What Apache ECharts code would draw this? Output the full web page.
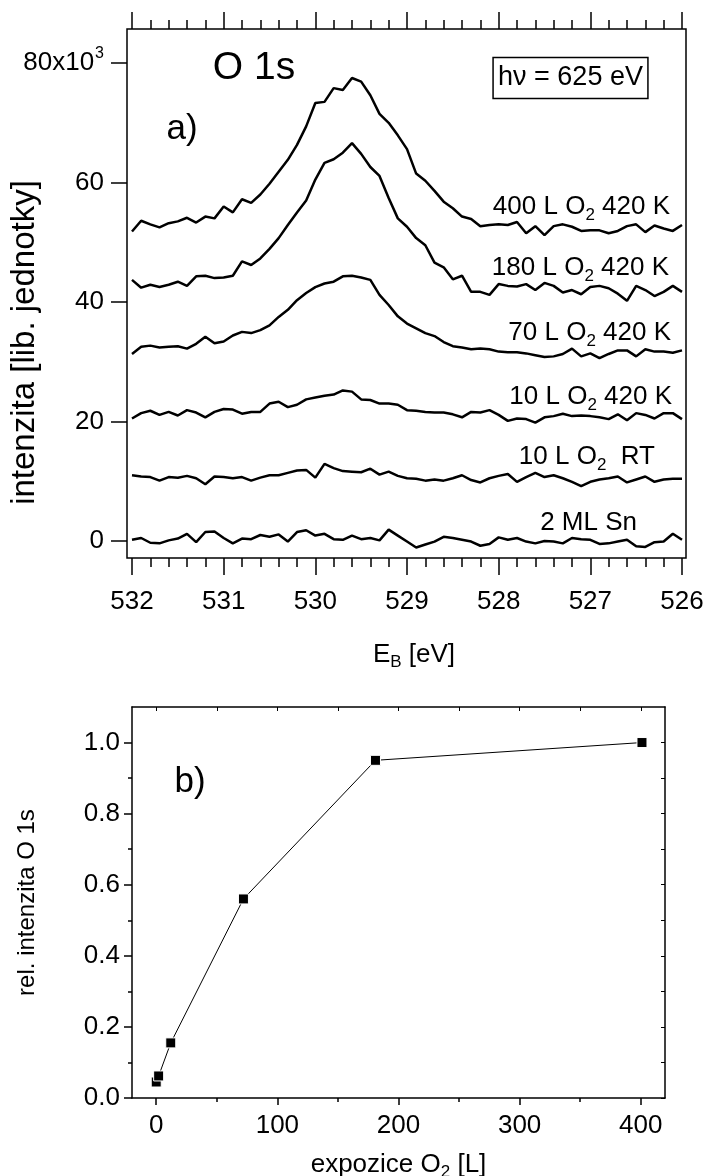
<!DOCTYPE html>
<html><head><meta charset="utf-8">
<script src="https://cdn.jsdelivr.net/npm/echarts@6/dist/echarts.min.js"></script>
<style>html,body{margin:0;padding:0;background:#fff}#c{width:707px;height:1176px}</style>
</head><body><div id="c"></div><script>
// ---- data: panel a) O 1s spectra (intensity in 10^3 counts) ----
const energy = [532.0,531.9,531.8,531.7,531.6,531.5,531.4,531.3,531.2,531.1,
  531.0,530.9,530.8,530.7,530.6,530.5,530.4,530.3,530.2,530.1,
  530.0,529.9,529.8,529.7,529.6,529.5,529.4,529.3,529.2,529.1,
  529.0,528.9,528.8,528.7,528.6,528.5,528.4,528.3,528.2,528.1,
  528.0,527.9,527.8,527.7,527.6,527.5,527.4,527.3,527.2,527.1,
  527.0,526.9,526.8,526.7,526.6,526.5,526.4,526.3,526.2,526.1,526.0];
const sn2ML = [0.2,0.5,-0.3,-0.4,0.1,0.4,1.2,-0.2,1.5,1.6,
  0.5,-0.4,0.4,0.3,1.0,0.7,1.1,-0.1,1.5,1.8,
  0.9,1.2,0.3,0.2,0.9,0.3,0.5,0.1,1.9,0.9,
  -0.1,-1.1,-0.6,-0.1,0.7,0.5,0.2,-0.1,-0.8,-0.5,
  0.6,0.2,0.5,-0.1,-0.4,0.0,-0.1,-0.4,0.5,0.3,
  0.2,-0.5,-0.4,-0.1,0.2,-0.9,-1.0,-0.2,-0.1,1.2,0.2];
const o2_10L_RT = [11.0,10.8,10.7,10.1,10.7,10.6,10.9,10.5,9.5,10.8,
  10.7,10.5,10.7,10.1,10.6,11.0,11.0,11.4,11.8,11.9,
  10.6,12.9,12.2,11.7,11.6,11.5,12.1,11.1,11.6,10.9,
  10.5,10.4,10.1,10.3,10.1,10.5,11.0,10.2,9.8,10.5,
  10.9,11.2,9.9,10.7,11.4,10.7,11.0,10.5,9.9,9.2,
  9.9,10.3,10.5,10.8,9.8,10.3,10.8,9.9,10.3,10.4,10.4];
const o2_10L_420K = [20.5,21.4,21.8,21.1,21.6,21.0,21.9,21.5,20.7,21.6,
  22.1,22.0,21.3,21.6,21.6,23.0,23.3,22.4,22.8,23.7,
  24.0,24.3,24.5,25.2,25.0,23.7,23.6,23.0,23.0,22.8,
  21.9,21.8,21.6,21.5,21.5,21.2,20.7,21.6,21.5,21.9,
  21.1,20.1,20.5,20.4,19.8,20.7,20.9,21.3,20.9,21.0,
  20.9,20.7,20.4,21.2,20.2,21.4,21.1,20.5,21.4,21.4,20.4];
const o2_70L_420K = [31.3,32.5,32.7,32.4,32.5,32.6,32.2,33.0,34.2,33.1,
  33.4,34.4,35.0,34.8,35.3,36.1,37.5,38.7,40.3,41.5,
  42.5,43.1,43.4,44.3,44.4,44.1,43.7,41.2,39.5,37.6,
  36.4,35.6,34.8,34.3,33.3,32.6,32.4,32.1,32.2,32.1,
  31.7,31.6,31.6,31.4,31.1,30.8,30.9,31.3,32.2,30.9,
  31.4,30.6,31.3,31.9,31.9,30.9,32.1,31.7,31.7,31.5,31.9];
const o2_180L_420K = [43.7,42.4,42.9,42.5,42.9,43.4,42.7,44.3,44.4,44.0,
  44.1,44.4,46.8,46.2,47.3,48.9,50.7,52.9,55.0,57.0,
  60.5,63.3,63.9,65.0,66.6,64.8,62.6,61.1,57.4,54.0,
  52.6,50.7,49.5,46.6,45.8,43.8,44.4,41.7,41.7,41.2,
  43.0,42.7,42.6,43.0,42.0,43.2,42.7,41.6,42.0,41.3,
  42.5,42.7,42.3,41.4,40.2,42.7,42.0,41.0,41.7,42.7,41.7];
const o2_400L_420K = [51.8,53.6,53.0,52.5,53.2,53.5,54.1,53.3,54.3,54.0,
  56.0,55.0,57.2,56.6,58.0,59.8,61.8,63.8,66.3,69.4,
  73.3,73.5,75.8,75.5,77.5,76.9,74.6,71.5,70.0,67.9,
  65.6,61.5,60.3,58.6,56.8,55.7,54.3,53.9,52.7,52.9,
  53.0,52.9,53.4,51.5,52.7,51.2,52.7,53.0,52.6,51.9,
  52.0,52.0,51.5,51.9,52.7,53.0,51.7,52.8,52.3,51.9,52.9];
const spectraLabels = ['2 ML Sn','10 L O{sub|2}  RT','10 L O{sub|2} 420 K','70 L O{sub|2} 420 K','180 L O{sub|2} 420 K','400 L O{sub|2} 420 K'];
const intTicks = [0,20,40,60,80];

// ---- data: panel b) relative O 1s intensity vs exposure ----
const exposure = [0, 2, 12, 72, 181, 401];
const relIntensity = [0.045, 0.062, 0.155, 0.56, 0.95, 1.0];
const expTicks = [0,100,200,300,400];
const expMinorTicks = [50,150,250,350];
const expTopTicks = [0,50,100,150,200,250,300,350,400];
const relTicks = [0,0.2,0.4,0.6,0.8,1.0];
const relMinorTicks = [0.1,0.3,0.5,0.7,0.9];
const relRightTicks = [0,0.1,0.2,0.3,0.4,0.5,0.6,0.7,0.8,0.9,1.0];

const FF = '"Liberation Sans", Arial, Helvetica, sans-serif';
const BLK = '#000';
const subStyle = {fontSize: 17, fontFamily: FF, color: BLK, padding: [16, 0, 0, 0]};
const supStyle = {fontSize: 16, fontFamily: FF, color: BLK, padding: [0, 0, 18, 1]};
const baseStyle = {fontSize: 26, fontFamily: FF, color: BLK};

function pairs(vals) { return energy.map((e, i) => [e, vals[i]]); }
const spectra = [sn2ML, o2_10L_RT, o2_10L_420K, o2_70L_420K, o2_180L_420K, o2_400L_420K];

const chart = echarts.init(document.getElementById('c'), null, {renderer: 'canvas'});

// label anchors (right edge x, center y) for the series names
const labelPos = [[637, 523], [655, 457], [672, 397], [671, 333], [669, 268], [670, 207]];

const graphics = [
  {type: 'rect', shape: {x: 127, y: 29, width: 559, height: 529}, style: {fill: 'none', stroke: BLK, lineWidth: 1.5}, z: 10},
  {type: 'text', x: 254, y: 68, style: {text: 'O 1s', fontSize: 39, fontFamily: FF, fill: BLK, align: 'center', verticalAlign: 'middle'}},
  {type: 'text', x: 182, y: 129, style: {text: 'a)', fontSize: 35, fontFamily: FF, fill: BLK, align: 'center', verticalAlign: 'middle'}},
  {type: 'text', x: 570.5, y: 78, style: {text: 'h\u03bd = 625 eV', fontSize: 27, fontFamily: FF, fill: BLK, align: 'center', verticalAlign: 'middle', borderColor: BLK, borderWidth: 1.5, padding: [8, 5, 6, 5]}},
  {type: 'text', x: 190, y: 782, style: {text: 'b)', fontSize: 35, fontFamily: FF, fill: BLK, align: 'center', verticalAlign: 'middle'}}
];
spectraLabels.forEach((t, i) => {
  graphics.push({type: 'text', x: labelPos[i][0], y: labelPos[i][1], style: {
    text: t, fontSize: 26, fontFamily: FF, fill: BLK, align: 'right', verticalAlign: 'middle',
    rich: {sub: subStyle}
  }});
});

const tickLine = {color: BLK, width: 1.5};

chart.setOption({
  animation: false,
  backgroundColor: '#fff',
  textStyle: {fontFamily: FF, color: BLK},
  grid: [
    {left: 132, right: 25, top: 29, bottom: 618, containLabel: false, outerBoundsMode: 'none'},
    {left: 132, right: 42, top: 707, bottom: 78, containLabel: false, outerBoundsMode: 'none'}
  ],
  xAxis: [
    { // 0: panel a bottom
      gridIndex: 0, type: 'value', position: 'bottom', inverse: true, min: 526, max: 532, interval: 1,
      axisLine: {show: false, onZero: false}, splitLine: {show: false},
      axisTick: {show: true, length: 17, lineStyle: tickLine},
      minorTick: {show: true, splitNumber: 5, length: 9, lineStyle: tickLine},
      axisLabel: {fontSize: 26, fontFamily: FF, color: BLK, margin: 31},
      name: 'E{sub|B} [eV]', nameLocation: 'middle', nameGap: 80, nameMoveOverlap: false,
      nameTextStyle: {fontSize: 26, fontFamily: FF, color: BLK, padding: [0, 0, 0, 14], rich: {sub: subStyle}}
    },
    { // 1: panel a top mirror ticks
      gridIndex: 0, type: 'value', position: 'top', inverse: true, min: 526, max: 532, interval: 1,
      axisLine: {show: false, onZero: false}, splitLine: {show: false},
      axisTick: {show: true, length: 17, lineStyle: tickLine},
      minorTick: {show: true, splitNumber: 5, length: 9, lineStyle: tickLine},
      axisLabel: {show: false}
    },
    { // 2: panel b bottom
      gridIndex: 1, type: 'value', position: 'bottom', min: -20, max: 420,
      axisLine: {show: true, onZero: false, lineStyle: {color: BLK, width: 1.5}}, splitLine: {show: false},
      axisTick: {show: true, length: 7, customValues: expTicks, lineStyle: tickLine},
      axisLabel: {fontSize: 26, fontFamily: FF, color: BLK, margin: 15, customValues: expTicks},
      name: 'expozice O{sub|2} [L]', nameLocation: 'middle', nameGap: 50, nameMoveOverlap: false,
      nameTextStyle: {fontSize: 26, fontFamily: FF, color: BLK, rich: {sub: subStyle}}
    },
    { // 3: panel b bottom minor ticks
      gridIndex: 1, type: 'value', position: 'bottom', min: -20, max: 420,
      axisLine: {show: false, onZero: false}, splitLine: {show: false},
      axisTick: {show: true, length: 4, customValues: expMinorTicks, lineStyle: tickLine},
      axisLabel: {show: false}
    },
    { // 4: panel b top mirror
      gridIndex: 1, type: 'value', position: 'top', min: -20, max: 420,
      axisLine: {show: true, onZero: false, lineStyle: {color: BLK, width: 1.5}}, splitLine: {show: false},
      axisTick: {show: true, inside: true, length: 4, customValues: expTopTicks, lineStyle: {color: BLK, width: 1}},
      axisLabel: {show: false}
    }
  ],
  yAxis: [
    { // 0: panel a intensity
      gridIndex: 0, type: 'value', position: 'left', min: -2.85, max: 85.7, offset: 5,
      axisLine: {show: false, onZero: false}, splitLine: {show: false},
      axisTick: {show: true, length: 16, customValues: intTicks, lineStyle: tickLine},
      axisLabel: {fontSize: 26, fontFamily: FF, color: BLK, margin: 23, customValues: intTicks,
        formatter: v => (v === 80 ? '{base|80x10}{sup|3}' : '{base|' + v + '}'), rich: {base: baseStyle, sup: supStyle}},
      name: 'intenzita [lib. jednotky]', nameLocation: 'middle', nameGap: 86, nameRotate: 90, nameMoveOverlap: false,
      nameTextStyle: {fontSize: 33, fontFamily: FF, color: BLK, padding: [0, 98, 0, 0]}
    },
    { // 1: panel b left
      gridIndex: 1, type: 'value', position: 'left', min: 0, max: 1.1,
      axisLine: {show: true, onZero: false, lineStyle: {color: BLK, width: 1.5}}, splitLine: {show: false},
      axisTick: {show: true, length: 8, customValues: relTicks, lineStyle: tickLine},
      axisLabel: {fontSize: 26, fontFamily: FF, color: BLK, margin: 12, customValues: relTicks,
        formatter: v => v.toFixed(1)},
      name: 'rel. intenzita O 1s', nameLocation: 'middle', nameGap: 93, nameRotate: 90, nameMoveOverlap: false,
      nameTextStyle: {fontSize: 24, fontFamily: FF, color: BLK}
    },
    { // 2: panel b left minor
      gridIndex: 1, type: 'value', position: 'left', min: 0, max: 1.1,
      axisLine: {show: false, onZero: false}, splitLine: {show: false},
      axisTick: {show: true, length: 4, customValues: relMinorTicks, lineStyle: tickLine},
      axisLabel: {show: false}
    },
    { // 3: panel b right mirror
      gridIndex: 1, type: 'value', position: 'right', min: 0, max: 1.1,
      axisLine: {show: true, onZero: false, lineStyle: {color: BLK, width: 1.5}}, splitLine: {show: false},
      axisTick: {show: true, inside: true, length: 4, customValues: relRightTicks, lineStyle: {color: BLK, width: 1}},
      axisLabel: {show: false}
    }
  ],
  series: spectra.map(vals => ({
    type: 'line', xAxisIndex: 0, yAxisIndex: 0, data: pairs(vals),
    showSymbol: false, symbol: 'none', clip: false,
    lineStyle: {color: BLK, width: 2.5}, silent: true
  })).concat([{
    type: 'line', xAxisIndex: 2, yAxisIndex: 1,
    data: exposure.map((x, i) => [x, relIntensity[i]]),
    symbol: 'rect', symbolSize: 10, showSymbol: true,
    itemStyle: {color: BLK, borderColor: '#fff', borderWidth: 1},
    lineStyle: {color: BLK, width: 1}, z: 5
  }]),
  graphic: graphics
});
</script></body></html>
